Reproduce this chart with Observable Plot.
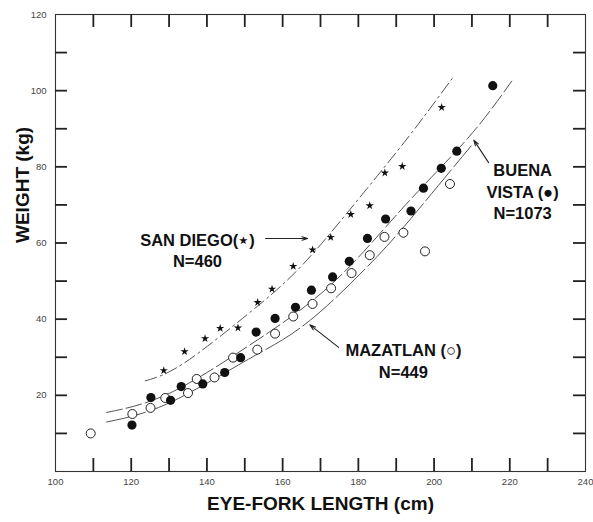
<!DOCTYPE html>
<html><head><meta charset="utf-8">
<script src="https://cdn.jsdelivr.net/npm/d3@7"></script>
<script src="https://cdn.jsdelivr.net/npm/@observablehq/plot@0.6"></script>
<style>body{margin:0;background:#fff} #chart svg{display:block}</style>
</head><body><div id="chart"></div>
<script>
// Buena Vista (filled circles)
const buenaVistaLength = [120.2,125.2,130.4,133.2,138.9,144.7,148.9,153.0,158.0,163.4,167.6,173.2,177.6,182.4,187.2,193.9,197.2,201.9,206.0,215.5];
const buenaVistaWeight = [12.2,19.4,18.7,22.3,23.0,26.0,29.9,36.6,40.2,43.1,47.6,51.1,55.2,61.2,66.3,68.4,74.4,79.6,84.1,101.3];
// Mazatlan (open circles)
const mazatlanLength = [109.3,120.3,125.1,129.0,135.0,137.3,142.0,146.9,153.3,158.0,162.8,167.9,172.8,178.2,183.0,186.9,191.9,197.6,204.2];
const mazatlanWeight = [10.0,15.1,16.7,19.3,20.6,24.3,24.7,29.9,32.0,36.2,40.7,44.0,48.1,52.1,56.8,61.6,62.7,57.8,75.5];
// San Diego (stars)
const sanDiegoLength = [128.6,134.1,139.5,143.5,148.2,153.4,157.2,162.8,167.9,172.7,178.0,183.0,187.0,191.6,202.0];
const sanDiegoWeight = [26.5,31.5,34.9,37.6,37.7,44.4,47.9,53.9,58.2,61.5,67.5,69.8,78.4,80.1,95.6];
// fitted curves
const sdCurveLength = [123.7,134,151,165,180,193.5,205];
const sdCurveWeight = [23.8,28.5,41.5,54,71.5,88.2,103.5];
const upperCurveLength = [113.5,130,151,172.7,192,208.9,220.5];
const upperCurveWeight = [15.5,20.5,33,49,69.5,87.5,102.5];
const lowerCurveLength = [113.5,130,151,167,185,197.3,209.8];
const lowerCurveWeight = [13,18,29.5,39.5,56.5,70.5,85.5];
// axes
const xDomain = [100, 240];
const yDomain = [0, 120];
const xMinorTicks = d3.range(110, 240, 10);
const yMinorTicks = d3.range(10, 120, 10);
const xTickLabels = [100,120,140,160,180,200,220,240];
const yTickLabels = [20,40,60,80,100,120];
const xTitle = "EYE-FORK LENGTH (cm)";
const yTitle = "WEIGHT (kg)";
const labelTexts = ["SAN DIEGO(\u22C6)\nN=460", "BUENA\nVISTA (\u25CF)\nN=1073", "MAZATLAN (\u25CB)\nN=449"];

const zip = (xs, ys) => xs.map((x, i) => ({x, y: ys[i]}));
const bv = zip(buenaVistaLength, buenaVistaWeight);
const mz = zip(mazatlanLength, mazatlanWeight);
const sd = zip(sanDiegoLength, sanDiegoWeight);
const sdCurve = zip(sdCurveLength, sdCurveWeight);
const upperCurve = zip(upperCurveLength, upperCurveWeight);
const lowerCurve = zip(lowerCurveLength, lowerCurveWeight);

// annotation layout (data units)
const labelPos = [{x:137.5, y:58.3}, {x:223.4, y:73.7}, {x:191.9, y:29.2}];
const annotations = labelTexts.map((t, i) => ({text: t, ...labelPos[i]}));
const arrows = [
  {x1:155.5, y1:61.2, x2:166.6, y2:61.2},
  {x1:214.4, y1:81.1, x2:210.5, y2:87.0},
  {x1:174.8, y1:32.6, x2:167.2, y2:38.5}
];

const W = 593, H = 522, mL = 55, mR = 8, mT = 14, mB = 51;
const frameW = W - mL - mR, frameH = H - mT - mB;
// inward tick lengths (px) converted to data units
const tickLenX = 13 * (yDomain[1] - yDomain[0]) / frameH;
const tickLenY = 12 * (xDomain[1] - xDomain[0]) / frameW;
const ink = "#222";
const tickStyle = {stroke: "#222", strokeWidth: 1.8, strokeOpacity: 1};
const chart = Plot.plot({
  width: W, height: H,
  marginLeft: mL, marginRight: mR, marginTop: mT, marginBottom: mB,
  style: {fontFamily: "'Liberation Sans', Arial, sans-serif"},
  x: {domain: xDomain, axis: null},
  y: {domain: yDomain, axis: null},
  marks: [
    Plot.frame({stroke: "#333", strokeWidth: 1.1}),
    // tick labels
    Plot.text(xTickLabels, {x: d => d, text: d => String(d), frameAnchor: "bottom", lineAnchor: "middle", dy: 10, fontSize: 9.5, fill: "#444"}),
    Plot.text(yTickLabels, {y: d => d, text: d => String(d), frameAnchor: "left", dx: -9, textAnchor: "end", fontSize: 9.5, fill: "#444"}),
    Plot.text([xTitle], {text: d => d, frameAnchor: "bottom", dy: 38, fontSize: 19, fontWeight: "bold", fill: "#111"}),
    Plot.text([yTitle], {text: d => d, frameAnchor: "left", dx: -33, rotate: -90, fontSize: 19, fontWeight: "bold", fill: "#111"}),
    Plot.line(sdCurve, {x: "x", y: "y", curve: "natural", stroke: "#555", strokeWidth: 1, strokeDasharray: "12,4,2,4"}),
    Plot.line(upperCurve, {x: "x", y: "y", curve: "natural", stroke: "#555", strokeWidth: 1, strokeDasharray: "16,4"}),
    Plot.line(lowerCurve, {x: "x", y: "y", curve: "natural", stroke: "#555", strokeWidth: 1, strokeDasharray: "40,4"}),
    Plot.dot(mz, {x: "x", y: "y", r: 4.5, stroke: ink, strokeWidth: 1, fill: "#fff"}),
    Plot.dot(bv, {x: "x", y: "y", r: 4.6, fill: "#111", stroke: "none"}),
    Plot.dot(sd, {x: "x", y: "y", r: 2.6, symbol: "star", fill: "#111", stroke: "none"}),
    Plot.arrow(arrows, {x1: "x1", y1: "y1", x2: "x2", y2: "y2", stroke: ink, strokeWidth: 1.1, headLength: 8, headAngle: 35}),
    Plot.text(annotations, {x: "x", y: "y", text: "text", fontSize: 16.5, fontWeight: "bold", lineHeight: 1.3, fill: "#111"}),
    // inward tick marks on all four sides (drawn last, on top)
    Plot.ruleX(xMinorTicks, {x: d => d, y1: yDomain[0], y2: yDomain[0] + tickLenX, ...tickStyle}),
    Plot.ruleX(xMinorTicks, {x: d => d, y1: yDomain[1], y2: yDomain[1] - tickLenX, ...tickStyle}),
    Plot.ruleY(yMinorTicks, {y: d => d, x1: xDomain[0], x2: xDomain[0] + tickLenY, ...tickStyle}),
    Plot.ruleY(yMinorTicks, {y: d => d, x1: xDomain[1], x2: xDomain[1] - tickLenY, ...tickStyle})
  ]
});
document.getElementById("chart").appendChild(chart);
</script>
</body></html>
